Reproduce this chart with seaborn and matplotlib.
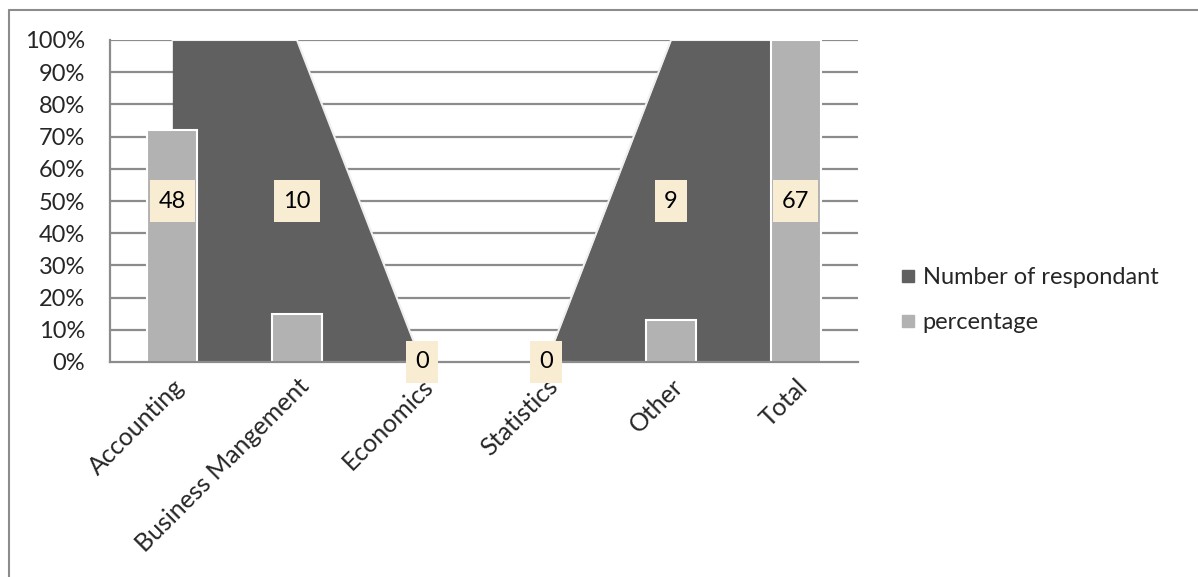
import numpy as np
import pandas as pd
import matplotlib
matplotlib.use("Agg")
import matplotlib.pyplot as plt
from matplotlib.lines import Line2D
from matplotlib.patches import Rectangle
from matplotlib.transforms import IdentityTransform
import seaborn as sns

categories = ["Accounting", "Business Mangement", "Economics", "Statistics", "Other", "Total"]
respondents = [48, 10, 0, 0, 9, 67]
percentage = [72, 15, 0, 0, 13, 100]
y_ticks = [0, 10, 20, 30, 40, 50, 60, 70, 80, 90, 100]
y_tick_labels = [f"{t}%" for t in y_ticks]

sns.set_theme(style="white")
plt.rcParams['font.family'] = ['Lato', 'DejaVu Sans']

W, H = 1198, 577
FS = 17
fig = plt.figure(figsize=(W / 100, H / 100), dpi=100)
ax = fig.add_axes([110 / W, 1 - 362 / H, (858 - 110) / W, (362 - 40) / H])

DARK = "#606060"
LIGHT = "#b2b2b2"
GRID = "#8c8c8c"

# 100% stacked area of a single series: nonzero -> 100%, zero -> 0%
n = np.array(respondents, dtype=float)
area_pct = np.where(n > 0, 100.0, 0.0)
x = np.arange(len(categories))

# gridlines
for t in y_ticks[1:]:
    ax.axhline(t, color=GRID, lw=1.6, zorder=0.5)

ax.fill_between(x, 0, area_pct, color=DARK, lw=0, zorder=1)
ax.plot(x, area_pct, color="#f0f0f0", lw=1.5, zorder=1.1)

df = pd.DataFrame({"cat": categories, "pct": percentage})
sns.barplot(data=df, x="cat", y="pct", color=LIGHT, saturation=1, width=0.4,
            edgecolor="white", linewidth=1.5, ax=ax, zorder=2)

ax.set_xlim(-0.5, len(categories) - 0.5)
ax.set_ylim(0, 100)
ax.set_yticks(y_ticks)
ax.set_yticklabels(y_tick_labels, fontsize=FS)
ax.set_xticks(x)
ax.set_xticklabels(categories, fontsize=18, rotation=45, ha="right", rotation_mode="anchor")
ax.set_xticks(np.arange(-0.5, len(categories)), minor=True)
ax.tick_params(axis="x", which="major", length=0, pad=9)
ax.tick_params(axis="x", which="minor", length=8, width=1.6, color=GRID, direction="out")
ax.tick_params(axis="y", which="major", length=8, width=1.6, color=GRID, direction="out", pad=10)
ax.set_xlabel("")
ax.set_ylabel("")
for s in ["top", "right"]:
    ax.spines[s].set_visible(False)
for s in ["left", "bottom"]:
    ax.spines[s].set_color(GRID)
    ax.spines[s].set_linewidth(1.6)
    ax.spines[s].set_zorder(3)

# data labels for number of respondents
texts = []
for i, (v, a) in enumerate(zip(respondents, area_pct)):
    t = ax.text(i, a / 2, str(v), ha="center", va="center", fontsize=FS, color="black",
                zorder=6, clip_on=False)
    texts.append(t)

fig.canvas.draw()
renderer = fig.canvas.get_renderer()
for t in texts:
    bb = t.get_window_extent(renderer)
    cx, cy = (bb.x0 + bb.x1) / 2, (bb.y0 + bb.y1) / 2
    bw, bh = bb.width + 18, 42
    rect = Rectangle((cx - bw / 2, cy - bh / 2), bw, bh, transform=IdentityTransform(),
                     facecolor="#f8edd3", edgecolor="none", zorder=5, clip_on=False)
    ax.add_patch(rect)

handles = [
    Line2D([0], [0], marker="s", color="none", markerfacecolor=DARK, markeredgecolor=DARK, markersize=9),
    Line2D([0], [0], marker="s", color="none", markerfacecolor=LIGHT, markeredgecolor=LIGHT, markersize=9),
]
fig.legend(handles, ["Number of respondant", "percentage"], loc="upper left",
           bbox_to_anchor=(878 / W, 1 - 246 / H), frameon=False, fontsize=FS,
           handlelength=0.7, handletextpad=0.3, labelspacing=1.0)

# outer chart border
fig.add_artist(Line2D([8.5 / W, 8.5 / W], [0, 1 - 10 / H], transform=fig.transFigure, color="#8c8c8c", lw=1.5))
fig.add_artist(Line2D([8.5 / W, 1], [1 - 10 / H, 1 - 10 / H], transform=fig.transFigure, color="#8c8c8c", lw=1.5))

fig.savefig("out.png", dpi=100, facecolor="white")
